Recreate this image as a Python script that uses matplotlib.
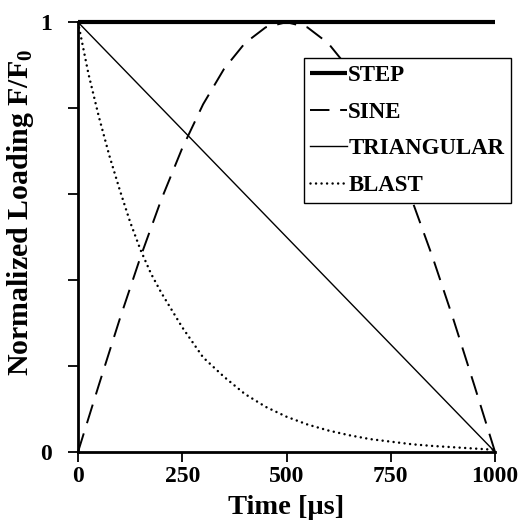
import matplotlib
matplotlib.use("Agg")
import matplotlib.pyplot as plt

plt.rcParams['font.family'] = ['Liberation Serif', 'DejaVu Serif']
plt.rcParams['font.weight'] = 'bold'
plt.rcParams['mathtext.fontset'] = 'custom'
plt.rcParams['mathtext.rm'] = 'Liberation Serif:bold'
plt.rcParams['mathtext.bf'] = 'Liberation Serif:bold'
plt.rcParams['mathtext.it'] = 'Liberation Serif:bold'
plt.rcParams['mathtext.default'] = 'bf'

# Data
step_t = [0, 1000]
step_v = [1.0, 1.0]

sine_t = [0, 50, 100, 150, 200, 250, 300, 350, 400, 450, 500,
          550, 600, 650, 700, 750, 800, 850, 900, 950, 1000]
sine_v = [0.0, 0.156, 0.309, 0.454, 0.588, 0.707, 0.809, 0.891, 0.951, 0.988, 1.0,
          0.988, 0.951, 0.891, 0.809, 0.707, 0.588, 0.454, 0.309, 0.156, 0.0]

tri_t = [0, 1000]
tri_v = [1.0, 0.0]

blast_t = [0, 25, 50, 75, 100, 125, 150, 175, 200, 250, 300, 350, 400, 450, 500,
           550, 600, 650, 700, 750, 800, 850, 900, 950, 1000]
blast_v = [1.0, 0.88, 0.78, 0.69, 0.61, 0.535, 0.47, 0.415, 0.37, 0.29, 0.22, 0.175,
           0.135, 0.105, 0.082, 0.064, 0.05, 0.039, 0.03, 0.024, 0.018, 0.014,
           0.011, 0.008, 0.005]

x_ticks = [0, 250, 500, 750, 1000]
y_ticks = [0, 0.2, 0.4, 0.6, 0.8, 1.0]
y_ticklabels = ['0', '', '', '', '', '1']

fig = plt.figure(figsize=(5.2, 5.28), dpi=100)
ax = fig.add_axes([0.15, 0.144, 0.802, 0.814])

ax.plot(step_t, step_v, color='black', lw=3.0, label='STEP', clip_on=False,
        solid_capstyle='butt')
ax.plot(sine_t, sine_v, color='black', lw=1.4, dashes=(10, 5.5), label='SINE',
        clip_on=False)
ax.plot(tri_t, tri_v, color='black', lw=1.0, label='TRIANGULAR', clip_on=False)
ax.plot(blast_t, blast_v, color='black', lw=1.8, dashes=(0.01, 2.2), label='BLAST',
        clip_on=False, dash_capstyle='round')

ax.set_xlim(0, 1000)
ax.set_ylim(0, 1)
ax.set_xticks(x_ticks)
ax.set_xticklabels([str(v) for v in x_ticks], fontsize=17, fontweight='bold')
ax.set_yticks(y_ticks)
ax.set_yticklabels(y_ticklabels, fontsize=17, fontweight='bold')
ax.tick_params(axis='x', direction='out', length=7, width=1.3, pad=3)
ax.tick_params(axis='y', direction='out', length=7, width=1.3, pad=12)

for s in ['top', 'right']:
    ax.spines[s].set_visible(False)
for s in ['left', 'bottom']:
    ax.spines[s].set_linewidth(2.0)

ax.set_xlabel('Time [μs]', fontsize=20.5, fontweight='bold', labelpad=6)
ax.set_ylabel('Normalized Loading F/F$_0$', fontsize=21.5, fontweight='bold')
ax.yaxis.set_label_coords(-0.10, 0.558)

leg = ax.legend(loc='upper right', bbox_to_anchor=(0.983, 0.890),
                bbox_transform=fig.transFigure,
                prop={'family': 'Liberation Serif', 'weight': 'bold', 'size': 16.5},
                frameon=True, fancybox=False, edgecolor='black', framealpha=1,
                handlelength=1.6, handletextpad=0.05, labelspacing=0.68,
                borderpad=0.3, borderaxespad=0)
leg.get_frame().set_linewidth(1.0)

fig.savefig('out.png', dpi=100)
